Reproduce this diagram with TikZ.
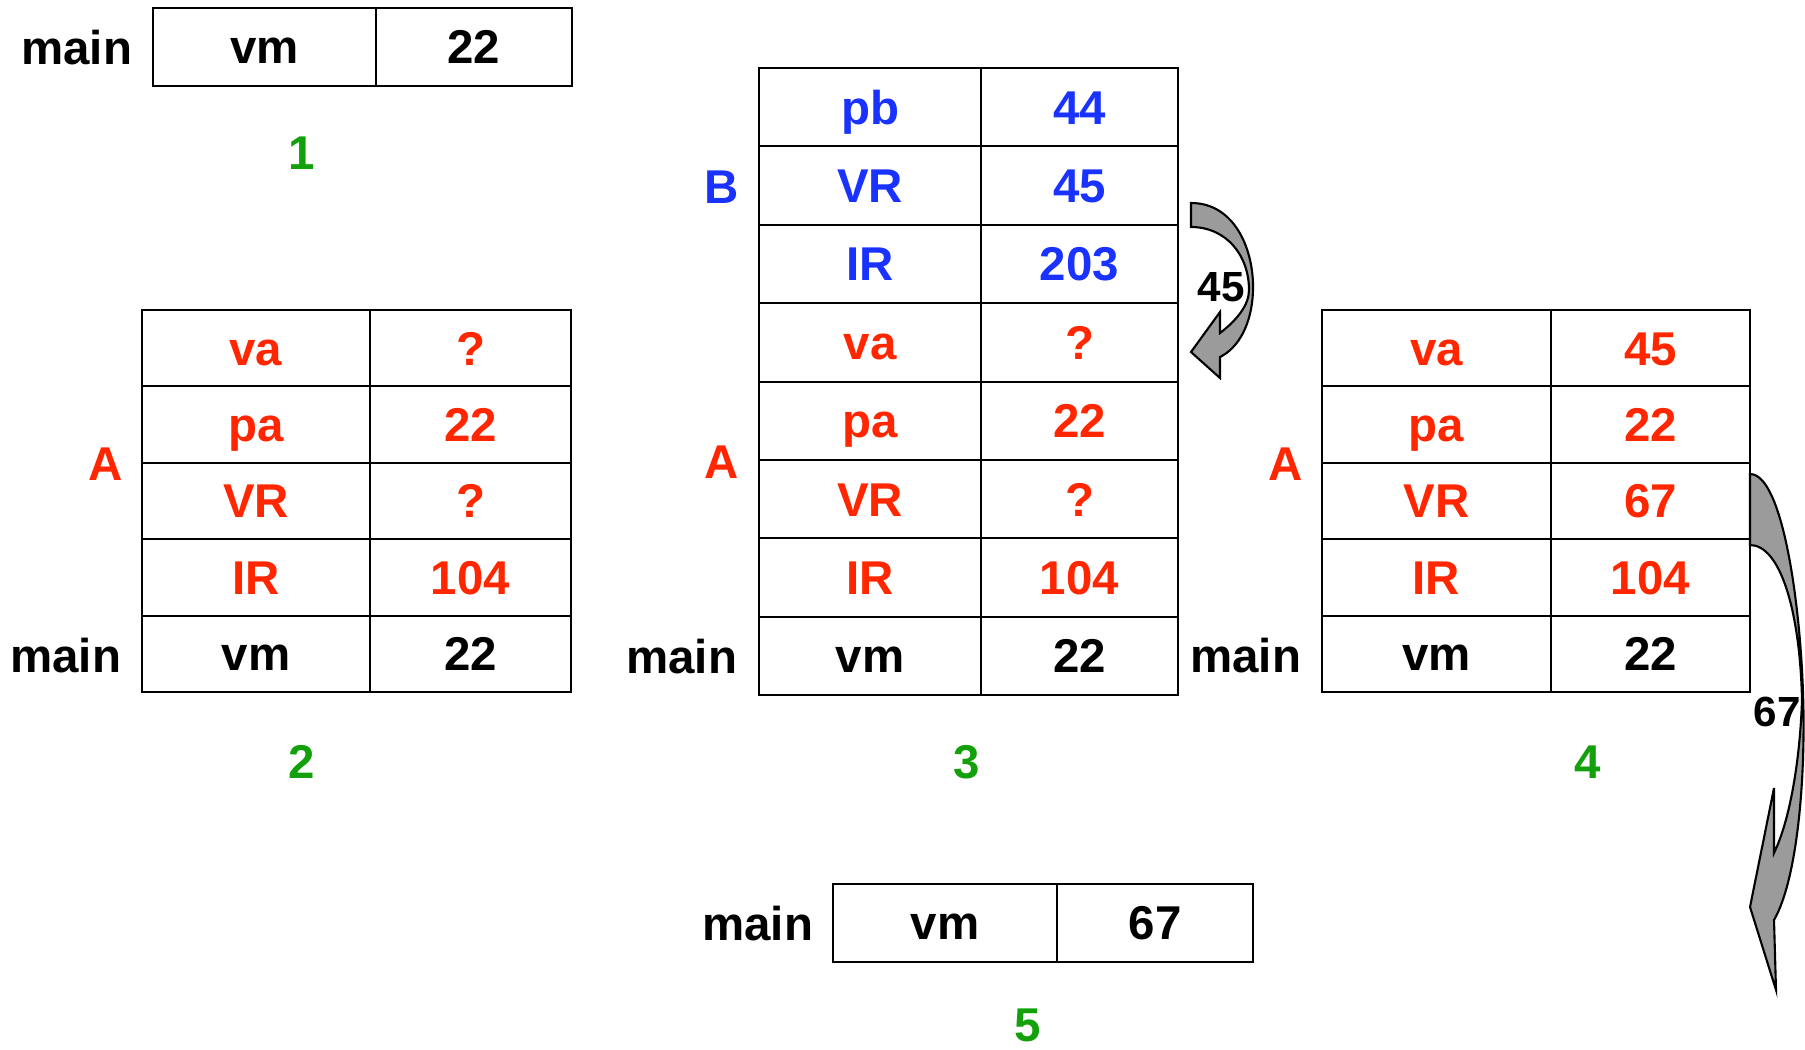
\documentclass[tikz,border=0pt]{standalone}
\usepackage{fontspec}
\setmainfont{Liberation Sans}
\definecolor{cred}{RGB}{255,38,0}
\definecolor{cblue}{RGB}{25,50,255}
\definecolor{cgreen}{RGB}{20,160,10}
\definecolor{agray}{RGB}{155,155,155}
\tikzset{
  txt/.style={font=\bfseries\fontsize{27}{30}\selectfont, inner sep=0pt, outer sep=0pt, text height=19.3pt, text depth=0pt},
  cellst/.style={txt, draw, line width=1.2pt, rectangle},
  lab/.style={txt},
  numlab/.style={txt, text=cgreen},
  arrlab/.style={font=\bfseries\fontsize{24}{26}\selectfont, inner sep=0pt, text height=17pt, text depth=0pt},
  blockarrow/.style={draw, line width=1.2pt, fill=agray, line join=miter},
}
\newcommand\cellbox[7]{\node[cellst,text=#6,minimum width={#4*0.02cm},minimum height={#5*0.02cm}] (#1) at ({#2+#4/2},{#3+#5/2}) {#7};}
\begin{document}
\begin{tikzpicture}[x=0.02cm,y=-0.02cm]
\useasboundingbox (0,0) rectangle (1805,1049);
% ---------- Table 1
\cellbox{ak}{153}{8}{223}{78}{black}{vm}
\cellbox{av}{376}{8}{196}{78}{black}{22}
\node[lab,anchor=east] (amain) at (132,48) {main};
\node[numlab] (n1) at (302,153) {1};
% ---------- Table 2
\cellbox{bk1}{142}{310}{228}{76.4}{cred}{va}
\cellbox{bv1}{370}{310}{201}{76.4}{cred}{?}
\cellbox{bk2}{142}{386.4}{228}{76.4}{cred}{pa}
\cellbox{bv2}{370}{386.4}{201}{76.4}{cred}{22}
\cellbox{bk3}{142}{462.8}{228}{76.4}{cred}{VR}
\cellbox{bv3}{370}{462.8}{201}{76.4}{cred}{?}
\cellbox{bk4}{142}{539.2}{228}{76.4}{cred}{IR}
\cellbox{bv4}{370}{539.2}{201}{76.4}{cred}{104}
\cellbox{bk5}{142}{615.6}{228}{76.4}{black}{vm}
\cellbox{bv5}{370}{615.6}{201}{76.4}{black}{22}
\node[lab,text=cred] (bA) at (106,464) {A};
\node[lab,anchor=east] (bmain) at (121,656) {main};
\node[numlab] (n2) at (302,762) {2};
% ---------- Table 3
\cellbox{ck1}{759}{68}{222}{78.4}{cblue}{pb}
\cellbox{cv1}{981}{68}{197}{78.4}{cblue}{44}
\cellbox{ck2}{759}{146.4}{222}{78.4}{cblue}{VR}
\cellbox{cv2}{981}{146.4}{197}{78.4}{cblue}{45}
\cellbox{ck3}{759}{224.8}{222}{78.4}{cblue}{IR}
\cellbox{cv3}{981}{224.8}{197}{78.4}{cblue}{203}
\cellbox{ck4}{759}{303.2}{222}{78.4}{cred}{va}
\cellbox{cv4}{981}{303.2}{197}{78.4}{cred}{?}
\cellbox{ck5}{759}{381.6}{222}{78.4}{cred}{pa}
\cellbox{cv5}{981}{381.6}{197}{78.4}{cred}{22}
\cellbox{ck6}{759}{460}{222}{78.4}{cred}{VR}
\cellbox{cv6}{981}{460}{197}{78.4}{cred}{?}
\cellbox{ck7}{759}{538.4}{222}{78.4}{cred}{IR}
\cellbox{cv7}{981}{538.4}{197}{78.4}{cred}{104}
\cellbox{ck8}{759}{616.8}{222}{78.4}{black}{vm}
\cellbox{cv8}{981}{616.8}{197}{78.4}{black}{22}
\node[lab,text=cblue] (cB) at (722,187) {B};
\node[lab,text=cred] (cA) at (722,462) {A};
\node[lab,anchor=east] (cmain) at (737,657) {main};
\node[numlab] (n3) at (967,762) {3};
% ---------- Table 4
\cellbox{dk1}{1322}{310}{229}{76.4}{cred}{va}
\cellbox{dv1}{1551}{310}{199}{76.4}{cred}{45}
\cellbox{dk2}{1322}{386.4}{229}{76.4}{cred}{pa}
\cellbox{dv2}{1551}{386.4}{199}{76.4}{cred}{22}
\cellbox{dk3}{1322}{462.8}{229}{76.4}{cred}{VR}
\cellbox{dv3}{1551}{462.8}{199}{76.4}{cred}{67}
\cellbox{dk4}{1322}{539.2}{229}{76.4}{cred}{IR}
\cellbox{dv4}{1551}{539.2}{199}{76.4}{cred}{104}
\cellbox{dk5}{1322}{615.6}{229}{76.4}{black}{vm}
\cellbox{dv5}{1551}{615.6}{199}{76.4}{black}{22}
\node[lab,text=cred] (dA) at (1286,464) {A};
\node[lab,anchor=east] (dmain) at (1301,656) {main};
\node[numlab] (n4) at (1588,762) {4};
% ---------- Table 5
\cellbox{ek}{833}{884}{224}{78}{black}{vm}
\cellbox{ev}{1057}{884}{196}{78}{black}{67}
\node[lab,anchor=east] (emain) at (813,924) {main};
\node[numlab] (n5) at (1028,1025) {5};
% ---------- curved block arrow 45
\draw[blockarrow] (1191,203) .. controls (1235,203) and (1254,250) .. (1253,290)
  .. controls (1252,325) and (1238,348) .. (1220,357)
  -- (1220,378) -- (1191,352) -- (1220,312) -- (1220,333)
  .. controls (1237,320) and (1249,305) .. (1249,290)
  .. controls (1249,255) and (1226,227) .. (1191,227) -- cycle;
\node[arrlab] (l45) at (1221,287) {45};
% ---------- curved block arrow 67
\draw[blockarrow] (1750,474) .. controls (1782,474) and (1800,600) .. (1803,693)
  .. controls (1806,780) and (1797,880) .. (1774,920)
  -- (1776,990) -- (1750,907) -- (1774,788) -- (1774,853)
  .. controls (1790,820) and (1800,760) .. (1802,700)
  .. controls (1800,610) and (1780,545) .. (1750,545) -- cycle;
\node[arrlab] (l67) at (1777,712) {67};
\end{tikzpicture}
\end{document}
